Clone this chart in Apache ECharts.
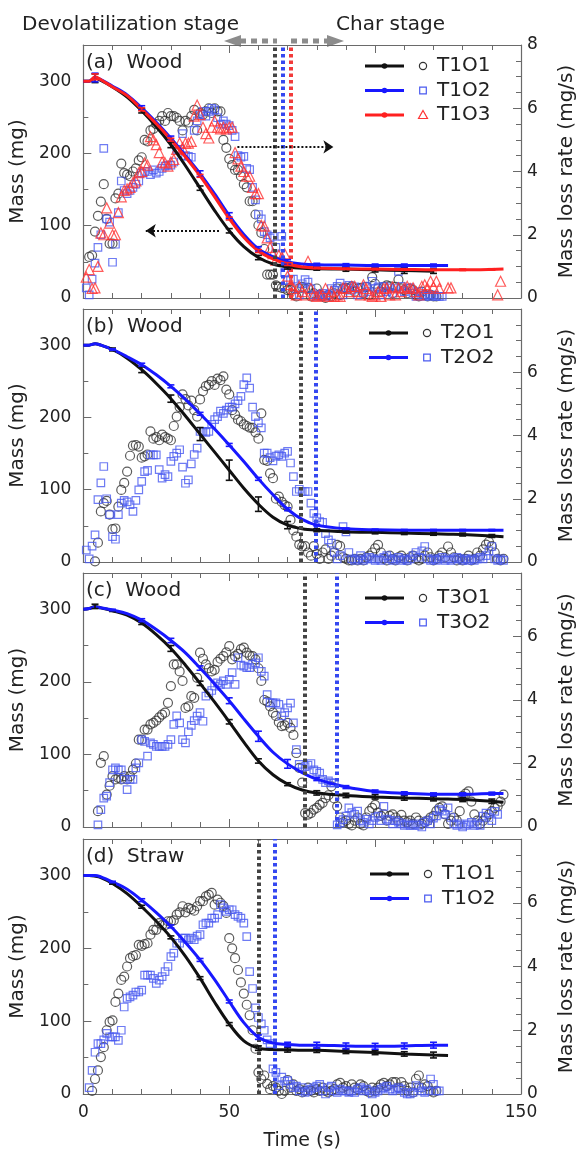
<!DOCTYPE html>
<html>
<head>
<meta charset="utf-8">
<script src="https://cdn.jsdelivr.net/npm/echarts@6/dist/echarts.min.js"></script>
<style>
  html, body { margin: 0; padding: 0; background: #fff; }
  #chart { width: 585px; height: 1154px; }
</style>
</head>
<body>
<div id="chart"></div>
<script>
// sample times (s) of the mass curves
var massTime = [0, 2, 4, 6, 10, 15, 20, 25, 30, 35, 40, 45, 50, 55, 60, 65, 70, 75, 80, 90, 100, 110, 120, 125, 130, 140, 144];

// mass (mg), panel a..d
var massA1 = [300, 300, 304, 301, 292, 278, 259, 237, 212, 183, 152, 121, 93, 71, 56, 47, 43, 41, 40.5, 40, 39, 38, 37];
var massA2 = [300, 300, 305, 302, 293, 281, 263, 243, 221, 197, 172, 144, 114, 88, 68, 57, 50, 47, 46, 45.5, 45, 45, 45, 45];
var massA3 = [300, 300, 306, 302, 292, 280, 261, 241, 219, 195, 169, 140, 110, 84, 65, 54, 47, 43, 41.5, 40.5, 40, 39.5, 39, 39, 39, 39.5, 40];
var massB1 = [300, 300, 302, 300, 294, 282, 266, 247, 226, 202, 177, 152, 127, 102, 80, 62, 51, 46, 44, 42, 41, 40, 39, 38.5, 38, 36, 35];
var massB2 = [300, 300, 302, 300, 294, 284, 273, 259, 243, 225, 205, 184, 162, 139, 115, 93, 73, 59, 51, 46, 44.5, 44, 44, 44, 44, 44, 44];
var massC1 = [300, 301, 304, 302, 298, 292, 281, 265, 246, 223, 198, 172, 145, 117, 91, 72, 59, 51, 47, 43.5, 41.5, 40, 39, 38.5, 38, 35.5, 34];
var massC2 = [300, 301, 303, 302, 299, 294, 285, 272, 257, 240, 219, 197, 174, 149, 125, 103, 87, 75, 66, 55, 49, 46.5, 45, 45, 45, 46, 46];
var massD1 = [300, 300, 299, 297, 289, 275, 257, 237, 215, 189, 159, 126, 96, 73, 63, 61, 60.5, 60, 60, 58.5, 57, 55, 53.5, 53];
var massD2 = [300, 300, 300, 298, 291, 281, 266, 249, 230, 208, 184, 157, 127, 98, 78, 70, 68, 67, 67, 66, 65.5, 66, 67, 67];

// error bar half widths (mg) at the same times, 0 = none
var errA1 = [0, 0, 6, 0, 0, 0, 3, 0, 4, 0, 3, 0, 3, 0, 3, 0, 3, 0, 2, 3, 3, 4, 3];
var errA2 = [0, 0, 6, 0, 0, 0, 3, 0, 3, 0, 4, 0, 4, 0, 3, 0, 3, 0, 2, 2, 2, 2, 2, 0];
var errA3 = [0, 0, 4, 0, 0, 0, 2, 0, 2, 0, 2, 0, 2, 0, 2, 0, 2, 0, 1, 1, 1, 1, 1, 0, 1, 1, 0];
var errB1 = [0, 0, 0, 0, 2, 0, 4, 0, 5, 0, 9, 0, 14, 0, 10, 0, 5, 0, 2, 2, 2, 2, 2, 0, 2, 2, 0];
var errB2 = [0, 0, 0, 0, 1, 0, 2, 0, 2, 0, 2, 0, 2, 0, 2, 0, 2, 0, 1, 1, 1, 1, 1, 0, 1, 1, 0];
var errC1 = [0, 0, 3, 0, 1, 0, 2, 0, 4, 0, 3, 0, 3, 0, 3, 0, 2, 0, 3, 3, 3, 3, 3, 0, 3, 3, 0];
var errC2 = [0, 0, 0, 0, 1, 0, 2, 0, 3, 0, 3, 0, 4, 0, 7, 0, 6, 0, 2, 2, 2, 2, 2, 0, 2, 2, 0];
var errD1 = [0, 0, 0, 0, 1, 0, 2, 0, 2, 0, 2, 0, 2, 0, 3, 0, 3, 0, 3, 3, 3, 3, 4, 0];
var errD2 = [0, 0, 0, 0, 1, 0, 2, 0, 2, 0, 2, 0, 2, 0, 3, 0, 3, 0, 4, 4, 4, 4, 4, 0];

// mass loss rate (mg/s), one value per second starting at t = 1 s
var rateStep = 1;
var rateA1 = [null, 1.30, 1.35, 2.1, 2.6, 3.05, 3.6, 2.5, 1.72, 1.72,
  3.15, 3.3, 4.25, 3.95, 3.9, 3.85, 4.0, 4.1, 4.35, 4.45,
  5.0, 4.95, 5.3, 5.35, 5.5, 5.6, 5.75, 5.6, 5.85, 5.75,
  5.75, 5.7, 5.6, 5.3, 5.6, 5.55, 5.75, 5.95, 5.3, 5.85,
  5.8, 5.9, 6.0, 5.85, 6.0, 5.9, 5.9, 5.0, 4.75, 4.4,
  4.2, 4.05, 4.05, 3.85, 3.6, 3.5, 3.06, 3.06, 2.64, 2.3,
  2.06, 1.55, 0.74, 0.74, 0.74, 0.4, 0.35, 0.32, 0.3, 0.25,
  0.26, 0.1, 0.05, 0.3, 0.35, 0.3, 0.32, 0.05, 0.15, 0.3,
  0.1, 0.05, 0.0, 0.1, 0.05, 0.15, 0.3, 0.1, 0.3, 0.32,
  0.3, 0.37, 0.2, 0.3, 0.32, 0.15, 0.35, 0.1, 0.66, 0.45,
  0.3, 0.2, 0.35, 0.4, 0.37, 0.15, 0.35, 0.58, 0.3, 0.25,
  0.15, 0.3, 0.25, 0.1, 0.05, 0.2, 0.1, 0.05, 0.1, 0.05, 0.05];
var rateA2 = [0.32, 0.1, 0.6, 1.1, 1.6, 2.0, 4.73, 2.5, 2.4, 1.13,
  1.7, 2.7, 3.7, 3.4, 3.3, 3.4, 3.5, 3.6, 3.7, 3.95,
  4.0, 4.0, 3.9, 4.05, 3.95, 4.0, 4.1, 4.17, 4.2, 4.2,
  4.3, 4.7, 4.7, 5.2, 4.5, 4.48, 4.45, 5.3, 5.6, 5.8,
  5.9, 5.75, 5.9, 6.0, 5.95, 5.7, 5.5, 5.6, 5.5, 5.45,
  5.3, 5.1, 4.5, 4.45, 4.48, 4.1, 4.06, 3.5, 3.1, 2.64,
  2.5, 2.1, 2.0, 1.9, 1.95, 1.6, 1.4, 1.95, 0.8, 0.55,
  0.58, 0.6, 0.3, 0.1, 0.45, 0.58, 0.5, 0.3, 0.1, 0.05,
  0.1, 0.15, 0.05, 0.1, 0.3, 0.25, 0.37, 0.47, 0.1, 0.32,
  0.4, 0.25, 0.35, 0.1, 0.3, 0.15, 0.37, 0.2, 0.53, 0.3,
  0.35, 0.1, 0.37, 0.2, 0.32, 0.15, 0.3, 0.84, 0.37, 0.2,
  0.3, 0.32, 0.15, 0.05, 0.2, 0.1, 0.05, 0.1, 0.05, 0.1, 0.05, 0.05, 0.05];
var rateA3 = [0.66, 0.9, 0.3, 0.32, 1.0, 2.06, 2.0, 2.85, 2.37, 2.0,
  2.0, 2.7, 3.2, 3.4, 3.45, 3.5, 3.65, 3.7, 3.96, 4.0,
  4.27, 4.2, 5.1, 5.0, 4.85, 4.6, 4.3, 4.27, 4.17, 4.3,
  4.38, 4.7, 4.9, 4.75, 4.9, 4.9, 4.95, 5.75, 6.1, 5.8,
  5.4, 5.2, 5.06, 5.4, 5.6, 5.4, 5.35, 5.4, 5.35, 5.4,
  5.4, 4.6, 4.4, 4.17, 4.0, 3.85, 3.85, 3.5, 3.3, 3.3,
  2.3, 2.27, 1.9, 1.6, 1.4, 1.2, 1.35, 1.3, 1.4, 0.69,
  0.42, 0.3, 0.1, 0.37, 0.2, 0.1, 1.16, 0.3, 0.1, 0.05,
  0.1, 0.1, 0.3, 0.05, 0.2, 0.05, 0.1, 0.05, 0.32, 0.3,
  0.2, 0.37, 0.37, 0.2, 0.1, 0.42, 0.3, 0.1, 0.05, 0.1,
  0.2, 0.05, 0.3, 0.32, 0.1, 0.35, 0.1, 0.32, 0.2, 0.32,
  0.37, 0.3, 0.32, 0.2, 0.1, 0.37, 0.42, 0.3, 0.53, 0.35,
  0.53, 0.3, null, null, 0.32, 0.32, null, null, null, null,
  null, null, null, null, null, null, null, null, null, null, null, 0.1, 0.53];
var rateB1 = [null, null, null, 0.02, 0.61, 1.6, 1.86, 1.93, 1.5, 1.04,
  1.06, 1.75, 2.28, 2.5, 2.86, 3.36, 3.68, 3.7, 3.65, 3.3,
  3.34, 3.4, 4.13, 3.9, 3.95, 3.85, 4.03, 3.95, 3.9, 3.85,
  4.3, 4.6, 4.9, 5.3, 5.15, 4.95, 5.1, 4.8, 4.6, 5.14,
  5.4, 5.56, 5.6, 5.72, 5.6, 5.8, 5.75, 5.87, 5.45, 5.3,
  4.8, 4.66, 4.5, 4.45, 4.35, 4.3, 4.25, 4.24, 4.1, 3.9,
  4.7, 3.23, 3.2, 2.8, 2.65, 2.0, 2.07, 1.9, 1.8, 1.75,
  1.33, 1.0, 0.8, 0.55, 0.49, 0.5, 0.3, 0.2, 0.5, 0.25,
  0.1, 0.3, 0.4, 0.1, 0.2, 0.3, 0.54, 0.5, 0.15, 0.1,
  0.05, 0.05, 0.1, 0.05, 0.1, 0.05, 0.15, 0.2, 0.3, 0.43,
  0.54, 0.3, 0.1, 0.05, 0.2, 0.1, 0.05, 0.15, 0.2, 0.1,
  0.05, 0.15, 0.2, 0.1, 0.05, 0.1, 0.2, 0.3, 0.15, 0.05,
  0.1, 0.2, 0.3, 0.15, 0.49, 0.3, 0.15, 0.05, 0.1, 0.05,
  0.1, 0.2, 0.05, 0.1, 0.3, 0.2, 0.4, 0.55, 0.64, 0.5, 0.3, 0.1, 0.05, 0.1];
var rateB2 = [0.38, 0.1, 0.5, 0.86, 1.97, 2.5, 3.02, 2.0, 1.5, 0.8,
  0.72, 1.5, 1.86, 1.95, 1.9, 1.81, 1.6, 1.95, 2.28, 2.55,
  2.86, 2.9, 3.39, 3.39, 3.39, 2.92, 2.65, 2.76, 2.7, 3.18,
  3.34, 3.44, 3.55, 3.0, 2.49, 2.6, 3.1, 3.4, 3.6, 4.13,
  4.13, 4.1, 4.13, 4.35, 4.5, 4.6, 4.77, 4.7, 4.8, 4.9,
  4.9, 5.0, 5.1, 5.24, 5.61, 5.82, 5.5, 4.9, 4.6, 4.4,
  4.24, 3.44, 3.44, 3.3, 3.2, 3.35, 3.39, 3.34, 3.44, 3.5,
  3.13, 2.7, 2.23, 2.3, 2.23, 2.23, 2.23, 1.86, 1.54, 1.4,
  1.28, 1.25, 0.9, 0.7, 0.6, 0.3, 0.1, 0.2, 1.12, 0.95,
  0.3, 0.1, 0.05, 0.1, 0.2, 0.05, 0.1, 0.15, 0.1, 0.05,
  0.1, 0.05, 0.15, 0.2, 0.1, 0.05, 0.1, 0.15, 0.05, 0.1,
  0.05, 0.1, 0.2, 0.3, 0.15, 0.35, 0.49, 0.1, 0.05, 0.1,
  0.05, 0.1, 0.15, 0.05, 0.1, 0.05, 0.1, 0.15, 0.1, 0.05,
  0.1, 0.05, 0.1, 0.05, 0.1, 0.15, 0.1, 0.2, 0.35, 0.49, 0.1, 0.05, 0.1, 0.05];
var rateC1 = [null, null, null, null, 0.5, 2.02, 2.23, 1.02, 1.3, 1.6,
  1.5, 1.55, 1.5, 1.6, 1.5, 1.6, 1.81, 2.0, 2.75, 2.75,
  3.07, 3.07, 3.23, 3.28, 3.35, 3.45, 3.54, 3.6, 3.91, 4.44,
  5.12, 5.12, 4.9, 4.6, 3.75, 3.8, 4.12, 4.07, 4.7, 5.49,
  5.3, 5.12, 5.0, 4.9, 4.95, 5.2, 5.3, 5.38, 5.5, 5.7,
  5.28, 5.38, 5.45, 5.6, 5.65, 5.49, 5.4, 5.38, 5.28, 5.0,
  4.6, 4.0, 3.95, 3.8, 3.6, 3.5, 3.3, 3.18, 3.2, 3.28,
  3.12, 2.9, 2.33, 1.86, 1.4, 0.44, 0.39, 0.44, 0.55, 0.6,
  0.7, 0.76, 0.91, 1.0, 1.28, 0.9, 0.65, 0.3, 0.15, 0.2,
  0.1, 0.05, 0.2, 0.3, 0.1, 0.05, 0.3, 0.5, 0.6, 0.7,
  0.45, 0.35, 0.4, 0.2, 0.35, 0.4, 0.3, 0.2, 0.38, 0.2,
  0.15, 0.2, 0.1, 0.3, 0.2, 0.1, 0.15, 0.2, 0.3, 0.35,
  0.5, 0.6, 0.65, 0.4, 0.1, 0.2, 0.3, 0.2, 0.5, 0.97,
  1.05, 1.12, 0.8, 0.4, 0.2, 0.1, 0.2, 0.3, 0.4, 0.5, 0.6, 0.65, 0.8, 1.02];
var rateC2 = [null, null, null, null, 0.07, 0.55, 0.91, 0.97, 1.4, 1.8,
  1.86, 1.8, 1.8, 1.5, 1.18, 1.5, 1.5, 1.86, 2.02, 2.75,
  2.7, 2.23, 2.65, 2.6, 2.54, 2.54, 2.54, 2.54, 2.6, 2.75,
  3.23, 3.5, 3.28, 2.75, 2.65, 3.0, 3.2, 3.35, 3.49, 3.6,
  3.33, 4.12, 4.22, 4.3, 4.44, 4.54, 4.49, 4.6, 4.49, 4.65,
  4.86, 4.49, 5.33, 5.1, 5.07, 5.02, 5.02, 5.12, 5.17, 5.33,
  4.9, 4.75, 4.17, 3.91, 3.91, 3.91, 3.86, 3.5, 3.6, 3.75,
  3.9, 3.28, 2.44, 1.97, 1.85, 1.9, 1.95, 2.0, 1.8, 1.75,
  1.7, 1.5, 1.4, 1.45, 1.39, 1.39, 0.07, 0.13, 0.23, 0.34,
  0.6, 0.45, 0.4, 0.5, 0.2, 0.15, 0.25, 0.1, 0.2, 0.3,
  0.34, 0.2, 0.65, 0.25, 0.2, 0.1, 0.2, 0.15, 0.1, 0.05,
  0.1, 0.05, 0.05, 0.1, 0.05, 0.0, 0.15, 0.2, 0.1, 0.28,
  0.35, 0.55, 0.5, 0.4, 0.6, 0.3, 0.1, 0.05, 0.1, 0.0,
  0.05, 0.1, 0.15, 0.05, 0.1, 0.05, 0.34, 0.44, 0.3, 0.2, 0.49, 0.4];
var rateD1 = [null, null, 0.1, 0.47, 0.74, 1.16, 1.47, 2.0, 2.26, 2.31,
  2.89, 3.15, 3.58, 3.68, 4.0, 4.26, 4.33, 4.36, 4.68, 4.65,
  4.7, 4.73, 5.0, 5.15, 5.15, 5.36, 5.3, 5.3, 5.42, 5.42,
  5.45, 5.63, 5.7, 5.89, 5.7, 5.84, 5.8, 5.75, 5.89, 6.05,
  6.05, 6.2, 6.25, 6.31, 5.94, 6.1, 6.0, 5.9, 5.68, 4.89,
  4.57, 4.26, 3.89, 3.5, 3.15, 2.8, 2.47, 2.0, 1.42, 0.68,
  0.47, 0.58, 0.32, 0.15, 0.25, 0.2, 0.1, 0.0, 0.1, 0.44,
  0.2, 0.3, 0.1, 0.15, 0.05, 0.1, 0.2, 0.1, 0.05, 0.15,
  0.1, 0.2, 0.1, 0.05, 0.1, 0.15, 0.3, 0.35, 0.2, 0.25,
  0.1, 0.3, 0.2, 0.15, 0.3, 0.25, 0.1, 0.05, 0.2, 0.1,
  0.2, 0.3, 0.35, 0.25, 0.3, 0.37, 0.37, 0.2, 0.37, 0.25,
  0.1, 0.2, 0.05, 0.47, 0.58, 0.2, 0.3, 0.25, 0.1, 0.05, 0.1];
var rateD2 = [null, 0.2, 0.74, 1.31, 1.58, 1.58, 1.7, 1.9, 1.79, 1.79,
  1.79, 1.68, 2.0, 2.73, 3.0, 3.05, 3.1, 3.2, 3.2, 3.26,
  3.73, 3.73, 3.73, 3.63, 3.47, 3.57, 3.68, 3.84, 4.0, 4.31,
  4.42, 4.73, 4.73, 4.89, 4.89, 4.84, 4.89, 4.84, 4.95, 5.0,
  5.31, 5.36, 5.36, 5.52, 5.52, 5.63, 5.94, 5.84, 5.73, 5.78,
  5.78, 5.63, 5.57, 5.52, 5.36, 4.94, 3.84, 3.31, 2.7, 2.4,
  2.2, 2.0, 1.7, 1.58, 0.79, 0.68, 0.26, 0.53, 0.4, 0.42,
  0.3, 0.2, 0.25, 0.1, 0.2, 0.05, 0.1, 0.15, 0.2, 0.25,
  0.3, 0.1, 0.0, 0.2, 0.25, 0.1, 0.05, 0.15, 0.1, 0.1,
  0.05, 0.1, 0.05, 0.15, 0.2, 0.1, 0.15, 0.1, 0.0, 0.05,
  0.1, 0.15, 0.2, 0.25, 0.15, 0.1, 0.15, 0.2, 0.15, 0.05,
  0.0, 0.0, 0.05, 0.26, 0.2, 0.1, 0.05, 0.1, 0.47, 0.3, 0.1, 0.1];

// end of devolatilization stage (s), dotted vertical lines
var stageA = [65.5, 68.5, 71];
var stageB = [74.5, 79.8];
var stageC = [75.8, 86.7];
var stageD = [60, 65.6];

var panelTitles = ['(a)  Wood', '(b)  Wood', '(c)  Wood', '(d)  Straw'];
var legendNames = [['T1O1', 'T1O2', 'T1O3'], ['T2O1', 'T2O2'], ['T3O1', 'T3O2'], ['T1O1', 'T1O2']];

var font = 'DejaVu Sans';
var textColor = '#222';
var axisColor = '#6a6a6a';
var lineColors = ['#111111', '#1818ff', '#ff2020'];
var markColors = ['#333333', '#4a5af0', '#ff3333'];
var markSymbols = ['circle', 'rect', 'triangle'];
var markSizes = [9, 7.5, 10];
var stageColors = ['#444444', '#3548f0', '#f23a3a'];

var gridTops = [45, 309, 573, 839];
var gridHeights = [253, 253, 254, 255];
var legendPos = [[365, 66], [369, 333], [365, 598], [370, 874]];

var panels = [
  { mass: [massA1, massA2, massA3], err: [errA1, errA2, errA3], rate: [rateA1, rateA2, rateA3], stage: stageA },
  { mass: [massB1, massB2], err: [errB1, errB2], rate: [rateB1, rateB2], stage: stageB },
  { mass: [massC1, massC2], err: [errC1, errC2], rate: [rateC1, rateC2], stage: stageC },
  { mass: [massD1, massD2], err: [errD1, errD2], rate: [rateD1, rateD2], stage: stageD }
];

function massPairs(vals) {
  return vals.map(function (v, i) { return [massTime[i], v]; });
}
function ratePairs(vals) {
  var out = [];
  vals.forEach(function (v, i) { if (v !== null) out.push([(i + 1) * rateStep, v]); });
  return out;
}
function errPairs(vals, errs) {
  var out = [];
  errs.forEach(function (e, i) { if (e > 0) out.push([massTime[i], vals[i], e]); });
  return out;
}

var grids = [], xAxes = [], yAxes = [], series = [], graphics = [];

panels.forEach(function (pn, p) {
  grids.push({ left: 77, right: 53, top: gridTops[p], height: gridHeights[p] });
  [false, true].forEach(function (isTop) {
    xAxes.push({
      type: 'value', gridIndex: p, min: 0, max: 150, interval: 50,
      position: isTop ? 'top' : 'bottom',
      axisLine: { show: true, onZero: false, lineStyle: { color: axisColor, width: 1.2 } },
      axisTick: { show: true, inside: true, length: 8, lineStyle: { color: axisColor } },
      minorTick: { show: true, splitNumber: 5, length: 5, lineStyle: { color: axisColor } },
      splitLine: { show: false },
      axisLabel: { show: !isTop && p === 3, color: textColor, fontFamily: font, fontSize: 17, margin: 10 },
      name: (!isTop && p === 3) ? 'Time (s)' : '',
      nameLocation: 'middle', nameGap: 38,
      nameTextStyle: { color: textColor, fontFamily: font, fontSize: 19 }
    });
  });
  yAxes.push({
    type: 'value', gridIndex: p, min: 0, max: 350, interval: 100, position: 'left',
    axisLine: { show: true, onZero: false, lineStyle: { color: axisColor, width: 1.2 } },
    axisTick: { show: true, inside: true, length: 8, lineStyle: { color: axisColor } },
    minorTick: { show: true, splitNumber: 2, length: 5, lineStyle: { color: axisColor } },
    splitLine: { show: false },
    axisLabel: { color: textColor, fontFamily: font, fontSize: 17, margin: 12, showMaxLabel: false },
    name: 'Mass (mg)', nameLocation: 'middle', nameGap: 39,
    nameTextStyle: { color: textColor, fontFamily: font, fontSize: 20 }
  });
  yAxes.push({
    type: 'value', gridIndex: p, min: 0, max: 8, interval: 2, position: 'right',
    axisLine: { show: true, onZero: false, lineStyle: { color: axisColor, width: 1.2 } },
    axisTick: { show: true, inside: true, length: 8, lineStyle: { color: axisColor } },
    minorTick: { show: true, splitNumber: 4, length: 5, lineStyle: { color: axisColor } },
    splitLine: { show: false },
    axisLabel: { color: textColor, fontFamily: font, fontSize: 17, margin: 6, showMaxLabel: p === 0 },
    name: 'Mass loss rate (mg/s)', nameLocation: 'middle', nameGap: 36,
    nameTextStyle: { color: textColor, fontFamily: font, fontSize: 20 }
  });

  // rate scatter + stage lines
  pn.rate.forEach(function (r, k) {
    series.push({
      type: 'scatter', xAxisIndex: 2 * p, yAxisIndex: 2 * p + 1, z: 2,
      symbol: markSymbols[k], symbolSize: markSizes[k],
      itemStyle: { color: 'rgba(255,255,255,0)', borderColor: markColors[k], borderWidth: 1.2 },
      data: ratePairs(r),
      markLine: {
        silent: true, symbol: ['none', 'none'], label: { show: false },
        lineStyle: { color: stageColors[k], type: [3.5, 3], width: 4, cap: 'butt' },
        data: [{ xAxis: pn.stage[k] }]
      }
    });
  });

  // mass lines + error bars
  pn.mass.forEach(function (m, k) {
    var s = {
      type: 'line', xAxisIndex: 2 * p, yAxisIndex: 2 * p, z: 4,
      smooth: 0.35, showSymbol: false,
      lineStyle: { color: lineColors[k], width: 3 },
      data: massPairs(m)
    };
    if (p === 0 && k === 0) {
      s.markLine = {
        silent: true, symbol: ['none', 'arrow'], symbolSize: 10, label: { show: false },
        lineStyle: { color: '#111', type: [2, 2], width: 2 },
        data: [
          [{ coord: [52.8, 209] }, { coord: [85.7, 209] }],
          [{ coord: [46.5, 93] }, { coord: [21.4, 93] }]
        ]
      };
    }
    series.push(s);
    series.push({
      type: 'custom', xAxisIndex: 2 * p, yAxisIndex: 2 * p, z: 5, silent: true,
      data: errPairs(m, pn.err[k]),
      renderItem: function (params, api) {
        var x = api.value(0), y = api.value(1), e = api.value(2);
        var lo = api.coord([x, y - e]), hi = api.coord([x, y + e]);
        var st = { stroke: lineColors[k], lineWidth: 1.6 };
        return {
          type: 'group', children: [
            { type: 'line', shape: { x1: lo[0], y1: lo[1], x2: hi[0], y2: hi[1] }, style: st },
            { type: 'line', shape: { x1: lo[0] - 3.5, y1: lo[1], x2: lo[0] + 3.5, y2: lo[1] }, style: st },
            { type: 'line', shape: { x1: hi[0] - 3.5, y1: hi[1], x2: hi[0] + 3.5, y2: hi[1] }, style: st }
          ]
        };
      }
    });
  });

  // panel title
  graphics.push({
    type: 'text', left: 86, top: gridTops[p] + 8, z: 10,
    style: { text: panelTitles[p], fill: textColor, font: '20px "DejaVu Sans"' }
  });

  // legend
  var lx = legendPos[p][0], ly = legendPos[p][1];
  legendNames[p].forEach(function (nm, k) {
    var y = ly + k * 24.5;
    graphics.push({ type: 'line', z: 10, shape: { x1: lx, y1: y, x2: lx + 39, y2: y }, style: { stroke: lineColors[k], lineWidth: 3 } });
    graphics.push({ type: 'circle', z: 10, shape: { cx: lx + 19.5, cy: y, r: 2.8 }, style: { fill: lineColors[k] } });
    var mx = lx + 58;
    var mk;
    if (k === 0) mk = { type: 'circle', shape: { cx: mx, cy: y, r: 3.6 } };
    else if (k === 1) mk = { type: 'rect', shape: { x: mx - 3.3, y: y - 3.3, width: 6.6, height: 6.6 } };
    else mk = { type: 'polygon', shape: { points: [[mx, y - 4.5], [mx + 4.5, y + 3.5], [mx - 4.5, y + 3.5]] } };
    mk.z = 10;
    mk.style = { fill: 'none', stroke: markColors[k], lineWidth: 1.2 };
    graphics.push(mk);
    graphics.push({
      type: 'text', z: 10, x: lx + 72, y: y,
      style: { text: nm, fill: textColor, font: '20px "DejaVu Sans"', verticalAlign: 'middle' }
    });
  });
});

// stage headings above panel (a)
graphics.push({ type: 'text', x: 22, y: 25, style: { text: 'Devolatilization stage', fill: textColor, font: '20px "DejaVu Sans"', verticalAlign: 'middle' } });
graphics.push({ type: 'text', x: 336, y: 25, style: { text: 'Char stage', fill: textColor, font: '20px "DejaVu Sans"', verticalAlign: 'middle' } });
var arrowGray = '#8c8c8c';
graphics.push({ type: 'line', shape: { x1: 240, y1: 41, x2: 277, y2: 41 }, style: { stroke: arrowGray, lineWidth: 5, lineDash: [6, 5] } });
graphics.push({ type: 'line', shape: { x1: 291, y1: 41, x2: 328, y2: 41 }, style: { stroke: arrowGray, lineWidth: 5, lineDash: [6, 5] } });
graphics.push({ type: 'polygon', shape: { points: [[224, 41], [241, 35], [241, 47]] }, style: { fill: arrowGray } });
graphics.push({ type: 'polygon', shape: { points: [[344, 41], [327, 35], [327, 47]] }, style: { fill: arrowGray } });

var myChart = echarts.init(document.getElementById('chart'));
myChart.setOption({
  backgroundColor: '#fff',
  animation: false,
  grid: grids,
  xAxis: xAxes,
  yAxis: yAxes,
  series: series,
  graphic: graphics
});
</script>
</body>
</html>
